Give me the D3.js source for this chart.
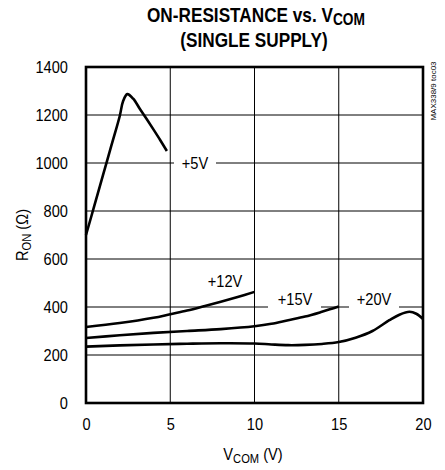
<!DOCTYPE html>
<html><head><meta charset="utf-8">
<script src="https://cdn.jsdelivr.net/npm/d3@7"></script>
<style>body{margin:0;background:#fff}svg{display:block}text{font-family:"Liberation Sans",Arial,sans-serif}</style>
</head><body><svg id="c" width="445" height="470"></svg>
<script>
const xTicks = [0, 5, 10, 15, 20];
const yTicks = [0, 200, 400, 600, 800, 1000, 1200, 1400];
const v5x  = [0, 0.5, 1.0, 1.5, 2.0, 2.2, 2.45, 2.8, 3.2, 3.6, 4.0, 4.4, 4.8];
const v5y  = [700, 823, 947, 1071, 1195, 1257, 1287, 1268, 1225, 1183, 1140, 1096, 1050];
const v12x = [0, 2, 4, 5, 6, 7, 8, 9, 10];
const v12y = [317, 333, 355, 370, 385, 403, 422, 442, 463];
const v15x = [0, 2, 4, 6, 8, 10, 11, 12, 13, 14, 15];
const v15y = [271, 282, 292, 300, 308, 320, 330, 345, 360, 380, 402];
const v20x = [0, 2, 4, 6, 8, 10, 11, 12, 13, 14, 15, 16, 17, 18, 18.6, 19.2, 19.6, 20];
const v20y = [235, 240, 244, 247, 249, 248, 244, 241, 242, 246, 254, 272, 300, 345, 368, 380, 372, 350];
const curveLabels = ["+5V", "+12V", "+15V", "+20V"];

const svg = d3.select("#c");
const m = {l: 86, t: 67, r: 22, b: 67};
const W = 445 - m.l - m.r, H = 470 - m.t - m.b;
const x = d3.scaleLinear().domain([0, 20]).range([m.l, m.l + W]);
const y = d3.scaleLinear().domain([0, 1400]).range([m.t + H, m.t]);
const SX = 0.86;

function ntext(px, py, size, anchor, html, bold) {
  const t = svg.append("text").attr("transform", `translate(${px},${py}) scale(${SX},1)`)
    .attr("text-anchor", anchor).attr("font-size", size);
  if (bold) t.attr("font-weight", "bold");
  t.html(html);
  return t;
}

// title
ntext(256, 22, 20, "middle", 'ON-RESISTANCE vs. V<tspan font-size="16" dy="3">COM</tspan>', true);
ntext(254, 47, 20, "middle", '(SINGLE SUPPLY)', true);

// gridlines with gaps for labels
const g = svg.append("g").attr("stroke", "#000").attr("stroke-width", 1);
xTicks.slice(1, -1).forEach(t => g.append("line").attr("x1", x(t)).attr("x2", x(t)).attr("y1", y(0)).attr("y2", y(1400)));
yTicks.slice(1, -1).forEach(t => {
  let segs = [[x(0), x(20)]];
  if (t === 1000) segs = [[x(0), 174], [216, x(20)]];
  if (t === 400) segs = [[x(0), 268], [321, 349], [399, x(20)]];
  segs.forEach(s => g.append("line").attr("x1", s[0]).attr("x2", s[1]).attr("y1", y(t)).attr("y2", y(t)));
});

// axes
const xa = svg.append("g").attr("transform", `translate(0,${y(0)})`)
  .call(d3.axisBottom(x).tickValues(xTicks).tickFormat(d3.format("d")).tickSize(0).tickPadding(15));
const ya = svg.append("g").attr("transform", `translate(${x(0)},0)`)
  .call(d3.axisLeft(y).tickValues(yTicks).tickFormat(d3.format("d")).tickSize(0).tickPadding(18));
[xa, ya].forEach(a => {
  a.select(".domain").remove();
  a.selectAll("text").attr("font-size", 17).attr("fill", "#000").style("font-family", null)
    .each(function() {
      const el = d3.select(this);
      const xv = +el.attr("x") || 0, yv = +el.attr("y") || 0;
      el.attr("x", 0).attr("y", 0).attr("transform", `translate(${xv},${yv}) scale(${SX},1)`);
    });
});

// frame
svg.append("rect").attr("x", x(0)).attr("y", y(1400)).attr("width", W).attr("height", H)
  .attr("fill", "none").attr("stroke", "#000").attr("stroke-width", 2.6);

// curves
const line = d3.line().x(d => x(d[0])).y(d => y(d[1])).curve(d3.curveCatmullRom.alpha(0.5));
[[v5x, v5y], [v12x, v12y], [v15x, v15y], [v20x, v20y]].forEach(([xs, ys]) => {
  svg.append("path").datum(xs.map((v, i) => [v, ys[i]])).attr("d", line)
    .attr("fill", "none").attr("stroke", "#000").attr("stroke-width", 2.6);
});

// curve labels
const lp = [[195, 169], [225, 287], [295, 305], [374, 305]];
curveLabels.forEach((t, i) => ntext(lp[i][0], lp[i][1], 17, "middle", t));

// axis titles
svg.append("text").attr("transform", `translate(28,235) rotate(-90) scale(${SX},1)`).attr("text-anchor", "middle")
  .attr("font-size", 17).html('R<tspan font-size="13" dy="3">ON</tspan><tspan dy="-3"> (Ω)</tspan>');
ntext(253, 460, 17, "middle", 'V<tspan font-size="13" dy="3">COM</tspan><tspan dy="-3"> (V)</tspan>');

// side note
svg.append("text").attr("transform", "translate(436,91) rotate(-90)").attr("text-anchor", "middle")
  .attr("font-size", 8).text("MAX338/9 toc03");
</script></body></html>
